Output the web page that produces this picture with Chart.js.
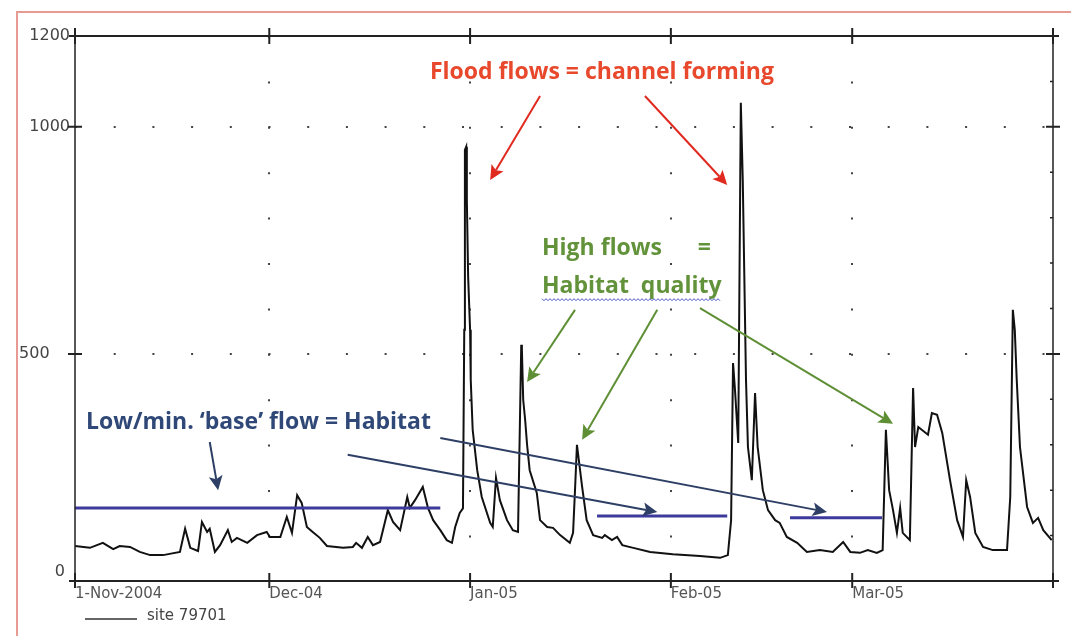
<!DOCTYPE html>
<html>
<head>
<meta charset="utf-8">
<script src="https://cdn.jsdelivr.net/npm/chart.js@4.4.1/dist/chart.umd.min.js"></script>
<style>
  html, body { margin: 0; padding: 0; background: #fff; }
  #wrap { position: relative; width: 1071px; height: 636px; }
</style>
</head>
<body>
<div id="wrap"><canvas id="flowChart" width="1071" height="636"></canvas></div>
<script>
// x axis = days since 1-Nov-2004
const monthTicks = [0, 30, 61, 92, 120, 151];
const monthLabels = ['1-Nov-2004', 'Dec-04', 'Jan-05', 'Feb-05', 'Mar-05', ''];
const flowTicks = [0, 500, 1000, 1200];

// site 79701 hydrograph
const flowDays = [
    0, 2.3, 4.3, 5.9, 6.9, 8.5, 10.0, 11.6, 13.6, 16.2, 17.0, 17.8, 19.0, 19.6, 20.4, 20.8,
    21.6, 22.4, 23.6, 24.2, 25.0, 26.6, 28.1, 29.6, 30.1, 31.7, 32.7, 33.5, 34.3, 35.0, 35.8,
    36.7, 37.8, 38.9, 41.4, 42.9, 43.4, 44.3, 45.2, 46.0, 47.1, 48.3, 49.1, 50.2, 51.3, 51.7,
    52.5, 53.7, 54.5, 55.3, 56.4, 57.4, 58.2, 58.7, 59.4, 59.9, 60.1, 60.2, 60.4, 60.5, 60.7,
    61.0, 61.1, 61.4, 62.1, 62.8, 64.1, 64.5, 65.0, 65.6, 66.7, 67.6, 68.4, 68.7, 68.9, 69.0,
    69.2, 69.5, 69.8, 70.2, 71.3, 71.8, 72.9, 73.8, 74.9, 76.4, 76.9, 77.2, 77.5, 78.3, 79.0,
    80.0, 81.4, 81.8, 82.9, 83.7, 84.5, 86.2, 88.8, 92.3, 96.5, 99.6, 100.8, 101.3, 101.6,
    101.9, 102.4, 102.8, 103.1, 103.3, 103.6, 103.9, 104.5, 105.0, 105.4, 106.2, 107.0, 108.1,
    108.8, 109.9, 111.5, 113.0, 115.0, 117.0, 118.6, 119.7, 121.2, 122.4, 123.8, 124.7, 125.2,
    125.7, 126.3, 126.9, 127.4, 127.8, 128.9, 129.4, 129.7, 130.2, 131.7, 132.3, 133.1, 133.9,
    135.1, 136.2, 137.1, 137.6, 138.2, 139.0, 140.2, 141.7, 143.9, 144.4, 144.8, 145.1, 145.4,
    145.9, 147.0, 147.9, 148.7, 149.5, 150.8
];
const flowValues = [
    77, 73, 84, 70, 77, 75, 64, 57, 57, 64, 115, 73, 66, 130, 108, 115,
    64, 79, 112, 86, 95, 84, 101, 108, 97, 97, 141, 106, 189, 172, 119,
    108, 95, 77, 73, 75, 84, 73, 97, 79, 86, 156, 130, 112, 185, 161,
    178, 207, 161, 134, 112, 90, 84, 119, 150, 160, 553, 949, 956, 839, 670,
    553, 443, 333, 244, 185, 128, 119, 227, 178, 134, 112, 108, 355, 520, 509,
    399, 355, 300, 244, 194, 134, 119, 117, 101, 84, 106, 200, 300, 207, 134,
    101, 95, 101, 90, 97, 79, 73, 64, 59, 55, 51, 57, 134, 480,
    421, 304, 1053, 883, 707, 443, 295, 222, 414, 295, 200, 156, 134,
    128, 97, 84, 64, 68, 64, 86, 64, 62, 68, 62, 68, 333,
    200, 156, 106, 161, 106, 90, 425, 295, 339, 322, 370, 366, 326,
    222, 134, 97, 222, 185, 106, 75, 68, 68, 185, 597, 553, 443,
    295, 163, 128, 139, 112, 90
];

// hand-drawn "base flow" levels
const baseStart = [0, 80.6, 110.4];
const baseEnd = [56.4, 100.7, 124.6];
const baseLevel = [161, 143, 139];

const flowData = flowDays.map((d, i) => ({ x: d, y: flowValues[i] }));

const baseSets = baseLevel.map((lv, i) => ({
    data: [{ x: baseStart[i], y: lv }, { x: baseEnd[i], y: lv }],
    borderColor: '#3c3a9c',
    borderWidth: 3,
    pointRadius: 0,
    order: 0
}));

// annotations, placed in data units (day, flow)
const notes = [
    { text: 'Flood flows = channel forming', d: 54.8, v: 1119, color: '#e8482c' },
    { text: 'High flows      =', d: 72.1, v: 733, color: '#62923a' },
    { text: 'Habitat  quality', d: 72.1, v: 648, color: '#62923a' },
    { text: 'Low/min. \u2018base\u2019 flow = Habitat', d: 1.7, v: 348, color: '#2f4877' }
];
const arrows = [
    { from: [71.8, 1068], to: [64.1, 883], color: '#e02a20' },
    { from: [88.0, 1068], to: [100.7, 872], color: '#e02a20' },
    { from: [77.2, 597], to: [69.8, 438], color: '#5f8f35' },
    { from: [89.9, 597], to: [78.3, 311], color: '#5f8f35' },
    { from: [96.5, 601], to: [126.3, 346], color: '#5f8f35' },
    { from: [20.8, 306], to: [22.1, 200], color: '#2e3f66' },
    { from: [42.1, 278], to: [89.9, 152], color: '#2e3f66' },
    { from: [56.4, 315], to: [116.1, 152], color: '#2e3f66' }
];

function drawArrow(ctx, x1, y1, x2, y2, color) {
    const a = Math.atan2(y2 - y1, x2 - x1);
    const head = 16;
    ctx.save();
    ctx.strokeStyle = color;
    ctx.fillStyle = color;
    ctx.lineWidth = 2;
    ctx.beginPath();
    ctx.moveTo(x1, y1);
    ctx.lineTo(x2 - head * 0.7 * Math.cos(a), y2 - head * 0.7 * Math.sin(a));
    ctx.stroke();
    ctx.beginPath();
    ctx.moveTo(x2, y2);
    ctx.lineTo(x2 - head * Math.cos(a - 0.45), y2 - head * Math.sin(a - 0.45));
    ctx.lineTo(x2 - head * 0.7 * Math.cos(a), y2 - head * 0.7 * Math.sin(a));
    ctx.lineTo(x2 - head * Math.cos(a + 0.45), y2 - head * Math.sin(a + 0.45));
    ctx.closePath();
    ctx.fill();
    ctx.restore();
}

const framePlugin = {
    id: 'frame',
    beforeDraw(chart) {
        const ctx = chart.ctx;
        ctx.save();
        ctx.fillStyle = '#fff';
        ctx.fillRect(0, 0, chart.width, chart.height);
        // pink slide border
        ctx.strokeStyle = '#e79b92';
        ctx.lineWidth = 2;
        ctx.beginPath();
        ctx.moveTo(17, chart.height);
        ctx.lineTo(17, 12);
        ctx.lineTo(chart.width, 12);
        ctx.stroke();
        ctx.restore();
    },
    afterDraw(chart) {
        const ctx = chart.ctx;
        const { left, right, top, bottom } = chart.chartArea;
        const xs = chart.scales.x, ys = chart.scales.y;
        ctx.save();
        ctx.strokeStyle = '#222';
        ctx.lineWidth = 2;
        ctx.beginPath();
        ctx.moveTo(left - 6, top); ctx.lineTo(right + 6, top);
        ctx.moveTo(left - 6, bottom); ctx.lineTo(right + 6, bottom);
        ctx.stroke();
        ctx.lineWidth = 1.5;
        ctx.beginPath();
        ctx.moveTo(left, top - 4); ctx.lineTo(left, bottom + 4);
        ctx.moveTo(right, top - 4); ctx.lineTo(right, bottom + 4);
        ctx.stroke();
        // month ticks on top and bottom
        ctx.lineWidth = 2;
        ctx.beginPath();
        monthTicks.forEach(d => {
            const x = xs.getPixelForValue(d);
            ctx.moveTo(x, top - 8); ctx.lineTo(x, top + 8);
            ctx.moveTo(x, bottom - 8); ctx.lineTo(x, bottom + 7);
        });
        // flow ticks left and right
        [500, 1000].forEach(v => {
            const y = ys.getPixelForValue(v);
            ctx.moveTo(left - 7, y); ctx.lineTo(left + 7, y);
            ctx.moveTo(right - 7, y); ctx.lineTo(right + 7, y);
        });
        ctx.stroke();
        ctx.lineWidth = 1.5;
        ctx.beginPath();
        for (let v = 100; v < 1200; v += 100) {
            if (v % 500 === 0) continue;
            const y = ys.getPixelForValue(v);
            ctx.moveTo(right - 3, y); ctx.lineTo(right, y);
        }
        ctx.stroke();

        // legend
        ctx.strokeStyle = '#333';
        ctx.lineWidth = 1.5;
        ctx.beginPath();
        ctx.moveTo(left + 10, bottom + 38); ctx.lineTo(left + 62, bottom + 38);
        ctx.stroke();
        ctx.fillStyle = '#444';
        ctx.font = '15px "DejaVu Sans"';
        ctx.textBaseline = 'middle';
        ctx.fillText('site 79701', left + 72, bottom + 35);

        // annotations
        arrows.forEach(a => {
            drawArrow(ctx, xs.getPixelForValue(a.from[0]), ys.getPixelForValue(a.from[1]),
                xs.getPixelForValue(a.to[0]), ys.getPixelForValue(a.to[1]), a.color);
        });
        ctx.font = 'bold 23px "Open Sans"';
        ctx.textAlign = 'left';
        notes.forEach(n => {
            ctx.fillStyle = n.color;
            ctx.fillText(n.text, xs.getPixelForValue(n.d), ys.getPixelForValue(n.v));
        });
        // spell-check squiggle under "Habitat  quality"
        const q = notes[2];
        const qx = xs.getPixelForValue(q.d);
        const qw = ctx.measureText(q.text).width;
        const qy = ys.getPixelForValue(q.v) + 13;
        ctx.strokeStyle = '#4a56c8';
        ctx.lineWidth = 1;
        ctx.beginPath();
        for (let x = qx; x <= qx + qw; x += 2) {
            const yy = qy + (Math.round((x - qx) / 2) % 2 ? 1 : -1);
            if (x === qx) ctx.moveTo(x, yy); else ctx.lineTo(x, yy);
        }
        ctx.stroke();
        ctx.restore();
    }
};

const ctx = document.getElementById('flowChart').getContext('2d');
new Chart(ctx, {
    type: 'line',
    data: {
        datasets: [{
            label: 'site 79701',
            data: flowData,
            borderColor: '#111',
            borderWidth: 2,
            pointRadius: 0,
            tension: 0,
            order: 1
        }, ...baseSets]
    },
    options: {
        responsive: false,
        animation: false,
        devicePixelRatio: 1,
        layout: { padding: { top: 36, right: 18, left: 0, bottom: 0 } },
        plugins: { legend: { display: false }, tooltip: { enabled: false } },
        scales: {
            x: {
                type: 'linear',
                min: 0,
                max: 151,
                afterBuildTicks: s => { s.ticks = monthTicks.map(v => ({ value: v })); },
                afterFit: s => { s.height = 55; },
                ticks: {
                    autoSkip: false,
                    maxRotation: 0,
                    align: 'start',
                    padding: 4,
                    color: '#555',
                    font: { family: 'DejaVu Sans', size: 15 },
                    callback: (v, i) => monthLabels[i]
                },
                grid: {
                    drawTicks: false,
                    color: c => (c.tick && c.tick.value > 0 && c.tick.value < 151) ? '#444' : 'rgba(0,0,0,0)',
                    lineWidth: 2
                },
                border: { display: false, dash: [2, 43.4] }
            },
            y: {
                min: 0,
                max: 1200,
                afterBuildTicks: s => { s.ticks = flowTicks.map(v => ({ value: v })); },
                afterFit: s => { s.width = 75; },
                ticks: {
                    padding: 5,
                    color: '#444',
                    font: { family: 'DejaVu Sans', size: 16 },
                    callback: v => v === 0 ? ['0 ', ''] : (v === 500 ? '500    ' : String(v))
                },
                grid: {
                    drawTicks: false,
                    color: c => (c.tick && (c.tick.value === 500 || c.tick.value === 1000)) ? '#444' : 'rgba(0,0,0,0)',
                    lineWidth: 2
                },
                border: { display: false, dash: [2, 36.7] }
            }
        }
    },
    plugins: [framePlugin]
});
</script>
</body>
</html>
